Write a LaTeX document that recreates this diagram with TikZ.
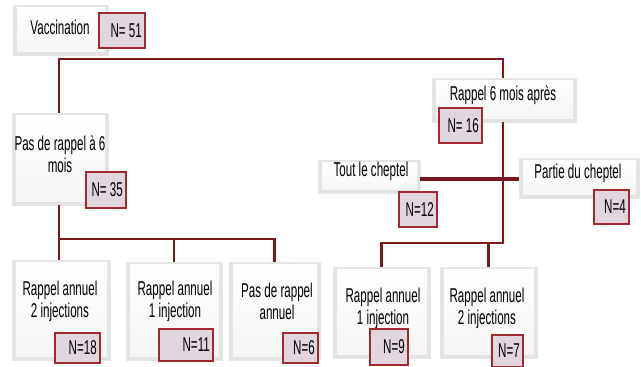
\documentclass[tikz,border=0pt]{standalone}
\usepackage{fontspec}
\setmainfont[FakeStretch=0.58]{Liberation Sans}
\definecolor{linkred}{RGB}{122,24,28}
\definecolor{nfill}{RGB}{226,214,222}
\definecolor{nline}{RGB}{160,40,48}
\tikzset{
  link/.style={draw=linkred, line width=2.8pt},
  thicklink/.style={draw=linkred, line width=3.8pt},
  mainbox/.style={draw=gray!20, fill=gray!22, inner sep=0pt, outer sep=0pt,
    path picture={\shade[top color=white, bottom color=gray!8] ([shift={(4pt,-2pt)}]path picture bounding box.north west) rectangle ([shift={(-3pt,4pt)}]path picture bounding box.south east);}},
  nbox/.style={draw=nline, fill=nfill, line width=1.4pt, inner sep=0pt, outer sep=0pt},
  txt/.style={font=\fontsize{20}{22}\selectfont, align=center, inner sep=0pt},
  ntxt/.style={font=\fontsize{20}{22}\selectfont, inner sep=0pt, anchor=east}
}
\newcommand{\mainb}[5]{\node[mainbox, minimum width=#4, minimum height=#5] (#1) at (#2,#3) {};}
\newcommand{\nb}[6]{\node[nbox, minimum width=#4, minimum height=#5] (#1) at (#2,#3) {};
  \node[ntxt] (#1t) at ([xshift=-3pt]#1.east) {#6};}
\begin{document}
\begin{tikzpicture}[x=1pt,y=-1pt]
\useasboundingbox (0,0) rectangle (641,367);
% main boxes
\mainb{vac}{60.5}{30}{95}{50}
\mainb{rap}{504}{100}{144}{44}
\mainb{pas}{60}{159}{96}{92}
\mainb{tout}{369}{176.5}{102}{33}
\mainb{part}{579}{178}{120}{40}
\mainb{b1}{61}{310}{98}{100}
\mainb{b2}{174}{311}{96}{98}
\mainb{b3}{274.5}{311}{91}{98}
\mainb{b4}{381.5}{312.5}{97}{91}
\mainb{b5}{488.5}{312.5}{97}{91}
% connectors
\coordinate (h1) at (59,59);
\coordinate (h2) at (59,239);
\coordinate (h3) at (503,243);
\draw[link] (pas.north -| h1) -- (h1) -| (rap.north -| h3);
\draw[link] (pas.south -| h2) -- (h2) -| (b3.north);
\draw[link] (b1.north -| h2) -- (h2);
\draw[link] (b2.north) -- (b2.north |- h2);
\draw[link] (rap.south -| h3) -- (h3) -| (b4.north);
\draw[link] (b5.north) -- (b5.north |- h3);
\draw[thicklink] (tout.east |- 0,179) -- (part.west |- 0,179);
% texts
\node[txt] (vact) at (60,27) {Vaccination};
\node[txt] (rapt) at (503,95) {Rappel 6 mois après};
\node[txt] (past) at (60,154) {Pas de rappel à 6\\mois};
\node[txt] (toutt) at (371,171) {Tout le cheptel};
\node[txt] (partt) at (578,173) {Partie du cheptel};
\node[txt] (b1t) at (60,301) {Rappel annuel\\2 injections};
\node[txt] (b2t) at (175,301) {Rappel annuel\\1 injection};
\node[txt] (b3t) at (277,301) {Pas de rappel\\annuel};
\node[txt] (b4t) at (383,308) {Rappel annuel\\1 injection};
\node[txt] (b5t) at (487,308) {Rappel annuel\\2 injections};
% N boxes
\nb{n51}{122}{30.5}{46}{35}{N= 51}
\nb{n16}{460.5}{125.5}{43}{35}{N= 16}
\nb{n12}{418}{209.5}{38}{35}{N=12}
\nb{n4}{611.5}{207}{35}{34}{N=4}
\nb{n35}{106}{190}{40}{36}{N= 35}
\nb{n18}{77.5}{348}{45}{30}{N=18}
\nb{n11}{186}{345}{54}{32}{N=11}
\nb{n6}{300.5}{348}{35}{30}{N=6}
\nb{n9}{389}{347}{38}{36}{N=9}
\nb{n7}{507.5}{351}{31}{32}{N=7}
\end{tikzpicture}
\end{document}
